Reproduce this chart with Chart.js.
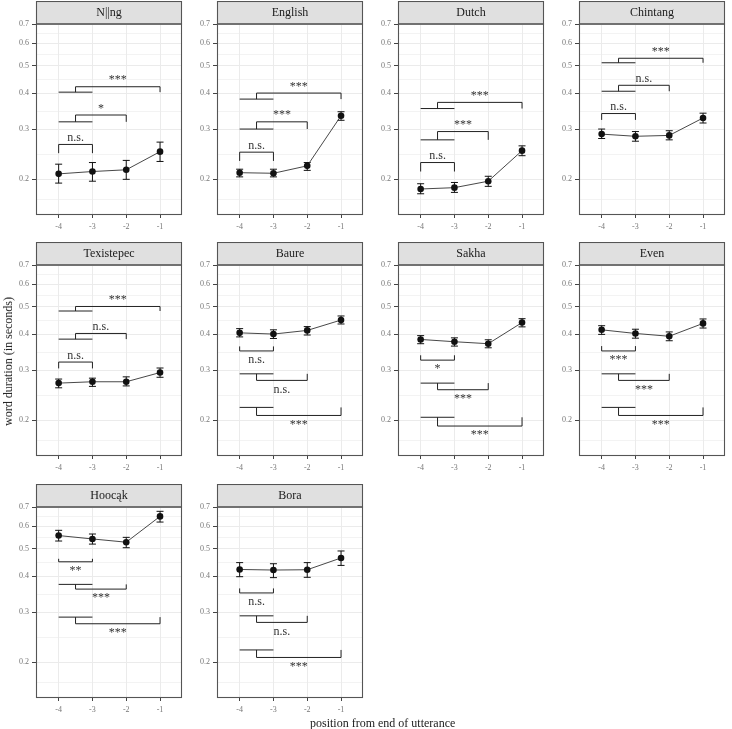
<!DOCTYPE html>
<html>
<head>
<meta charset="utf-8">
<script src="https://cdn.jsdelivr.net/npm/chart.js@4.4.0/dist/chart.umd.min.js"></script>
<style>
  body { margin: 0; background: #fff; }
  #wrap { position: relative; width: 732px; height: 729px; overflow: hidden; font-family: "Liberation Serif", serif; }
  #wrap canvas { position: absolute; z-index: 1; }
  .title { position: absolute; z-index: 2; color: #1a1a1a; font-size: 12px; line-height: 14px; white-space: nowrap; }
  #ytitle { writing-mode: vertical-rl; transform: rotate(180deg); }
</style>
</head>
<body>
<div id="wrap">
  <div class="title" id="ytitle">word duration (in seconds)</div>
  <div class="title" id="xtitle">position from end of utterance</div>
</div>
<script>
// positions on x, one line per language
const positions = [-4, -3, -2, -1];
const languages = ['N||ng', 'English', 'Dutch', 'Chintang', 'Texistepec', 'Baure', 'Sakha', 'Even', 'Hoocąk', 'Bora'];

const meanDuration = [
  [0.209, 0.213, 0.216, 0.250],
  [0.211, 0.210, 0.223, 0.334],
  [0.185, 0.187, 0.197, 0.252],
  [0.288, 0.283, 0.285, 0.328],
  [0.270, 0.273, 0.273, 0.294],
  [0.405, 0.401, 0.413, 0.449],
  [0.384, 0.377, 0.371, 0.440],
  [0.415, 0.403, 0.394, 0.437],
  [0.556, 0.541, 0.527, 0.649],
  [0.423, 0.421, 0.422, 0.464]
];
const lowerCI = [
  [0.194, 0.197, 0.200, 0.231],
  [0.204, 0.204, 0.215, 0.322],
  [0.178, 0.180, 0.189, 0.242],
  [0.278, 0.272, 0.275, 0.315],
  [0.260, 0.263, 0.264, 0.283],
  [0.392, 0.387, 0.398, 0.435],
  [0.371, 0.364, 0.359, 0.425],
  [0.400, 0.388, 0.380, 0.421],
  [0.532, 0.519, 0.504, 0.620],
  [0.399, 0.396, 0.397, 0.437]
];
const upperCI = [
  [0.226, 0.229, 0.233, 0.270],
  [0.217, 0.217, 0.229, 0.345],
  [0.193, 0.195, 0.205, 0.262],
  [0.300, 0.294, 0.296, 0.341],
  [0.279, 0.281, 0.284, 0.305],
  [0.419, 0.415, 0.426, 0.464],
  [0.396, 0.389, 0.383, 0.454],
  [0.429, 0.417, 0.408, 0.453],
  [0.580, 0.563, 0.548, 0.676],
  [0.447, 0.443, 0.447, 0.491]
];

// significance brackets: position -4 (and -4/-3 group) compared with each target
const bracketTargets = [-3, -2, -1];
const bracketBase = [
  [0.247, 0.318, 0.404],
  [0.232, 0.300, 0.382],
  [0.213, 0.275, 0.354],
  [0.323, 0.407, 0.512],
  [0.304, 0.385, 0.483],
  [0.363, 0.291, 0.222],
  [0.338, 0.270, 0.205],
  [0.364, 0.291, 0.222],
  [0.461, 0.375, 0.288],
  [0.363, 0.291, 0.221]
];
const bracketEnd = [
  [0.265, 0.336, 0.422],
  [0.249, 0.318, 0.401],
  [0.229, 0.294, 0.372],
  [0.340, 0.427, 0.531],
  [0.320, 0.403, 0.501],
  [0.350, 0.276, 0.208],
  [0.325, 0.256, 0.191],
  [0.350, 0.276, 0.208],
  [0.450, 0.361, 0.273],
  [0.350, 0.276, 0.208]
];
const bracketLabels = [
  ['n.s.', '*', '***'],
  ['n.s.', '***', '***'],
  ['n.s.', '***', '***'],
  ['n.s.', 'n.s.', '***'],
  ['n.s.', 'n.s.', '***'],
  ['n.s.', 'n.s.', '***'],
  ['*', '***', '***'],
  ['***', '***', '***'],
  ['**', '***', '***'],
  ['n.s.', 'n.s.', '***']
];

const yTicks = [0.2, 0.3, 0.4, 0.5, 0.6, 0.7];
const yMinor = [0.17, 0.245, 0.346, 0.447, 0.548, 0.648];

const FONT = '"Liberation Serif"';
const colLeft = [0, 181, 362, 543];
const rowTop = [1, 242, 484];

const panelPlugin = {
  id: 'panel',
  beforeDatasetsDraw(chart) {
    const i = chart.options.plugins.panel.index;
    const ctx = chart.ctx, xs = chart.scales.x, ys = chart.scales.y;
    ctx.save();
    ctx.strokeStyle = '#111';
    ctx.lineWidth = 1;
    positions.forEach((p, j) => {
      const x = xs.getPixelForValue(p);
      const y1 = ys.getPixelForValue(lowerCI[i][j]);
      const y2 = ys.getPixelForValue(upperCI[i][j]);
      ctx.beginPath();
      ctx.moveTo(x, y1); ctx.lineTo(x, y2);
      ctx.moveTo(x - 3.5, y1); ctx.lineTo(x + 3.5, y1);
      ctx.moveTo(x - 3.5, y2); ctx.lineTo(x + 3.5, y2);
      ctx.stroke();
    });
    ctx.restore();
  },
  afterDatasetsDraw(chart) {
    const i = chart.options.plugins.panel.index;
    const ctx = chart.ctx, xs = chart.scales.x, ys = chart.scales.y;
    ctx.save();
    ctx.strokeStyle = '#222';
    ctx.lineWidth = 1;
    ctx.fillStyle = '#333';
    ctx.font = '12px ' + FONT;
    ctx.textAlign = 'center';
    const px = v => xs.getPixelForValue(v);
    bracketTargets.forEach((t, k) => {
      const b = ys.getPixelForValue(bracketBase[i][k]);
      const e = ys.getPixelForValue(bracketEnd[i][k]);
      ctx.beginPath();
      let cx;
      if (t === -3) {
        ctx.moveTo(px(-4), b); ctx.lineTo(px(-4), e); ctx.lineTo(px(-3), e); ctx.lineTo(px(-3), b);
        cx = px(-3.5);
      } else {
        ctx.moveTo(px(-4), b); ctx.lineTo(px(-3), b);
        ctx.moveTo(px(-3.5), b); ctx.lineTo(px(-3.5), e); ctx.lineTo(px(t), e); ctx.lineTo(px(t), b);
        cx = px((-3.5 + t) / 2);
      }
      ctx.stroke();
      if (e < b) {
        ctx.textBaseline = 'bottom';
        ctx.fillText(bracketLabels[i][k], cx, e - 0.5);
      } else {
        ctx.textBaseline = 'top';
        ctx.fillText(bracketLabels[i][k], cx, e + 3);
      }
    });
    ctx.restore();
  },
  afterDraw(chart) {
    const i = chart.options.plugins.panel.index;
    const ctx = chart.ctx, a = chart.chartArea;
    ctx.save();
    ctx.fillStyle = '#e0e0e0';
    ctx.fillRect(a.left, 0.5, a.right - a.left, a.top - 0.5);
    ctx.strokeStyle = '#555';
    ctx.lineWidth = 1.1;
    ctx.strokeRect(a.left + 0.5, 0.5, a.right - a.left - 1, a.top - 0.5);
    ctx.strokeRect(a.left + 0.5, a.top, a.right - a.left - 1, a.bottom - a.top - 0.5);
    ctx.fillStyle = '#1a1a1a';
    ctx.font = '12px ' + FONT;
    ctx.textAlign = 'center';
    ctx.textBaseline = 'middle';
    ctx.fillText(languages[i], (a.left + a.right) / 2, a.top / 2 + 0.5);
    ctx.restore();
  }
};

function drawAll() {
  const wrap = document.getElementById('wrap');
  languages.forEach((lang, i) => {
    const cv = document.createElement('canvas');
    cv.width = 186; cv.height = 234;
    cv.style.left = colLeft[i % 4] + 'px';
    cv.style.top = rowTop[Math.floor(i / 4)] + 'px';
    wrap.appendChild(cv);

    new Chart(cv, {
      type: 'line',
      data: {
        datasets: [{
          data: positions.map((p, j) => ({ x: p, y: meanDuration[i][j] })),
          borderColor: '#333',
          borderWidth: 0.9,
          pointRadius: 3.3,
          pointBackgroundColor: '#111',
          pointBorderWidth: 0,
          tension: 0
        }]
      },
      options: {
        responsive: false,
        animation: false,
        layout: { padding: { top: 23, left: 0, right: 0, bottom: 0 } },
        plugins: { legend: { display: false }, tooltip: { enabled: false }, panel: { index: i } },
        scales: {
          x: {
            type: 'linear', min: -4.67, max: -0.35,
            afterBuildTicks: ax => { ax.ticks = positions.map(v => ({ value: v })); },
            afterFit: ax => { ax.height = 20; },
            border: { display: false },
            grid: { color: '#ebebeb', lineWidth: 1, tickLength: 3, tickColor: '#444' },
            ticks: { autoSkip: false, maxRotation: 0, padding: 4, color: '#777', font: { family: FONT, size: 8 }, callback: v => String(v) }
          },
          y: {
            type: 'logarithmic', min: 0.15, max: 0.7,
            afterBuildTicks: ax => { ax.ticks = yTicks.concat(yMinor).map(v => ({ value: v })); },
            afterFit: ax => { ax.width = 36; },
            border: { display: false },
            grid: {
              color: '#ebebeb',
              lineWidth: c => (yTicks.includes(c.tick.value) ? 1 : 0.6),
              tickLength: 4,
              tickColor: c => (yTicks.includes(c.tick.value) ? '#444' : 'rgba(0,0,0,0)')
            },
            ticks: {
              autoSkip: false, padding: 3, color: '#777', font: { family: FONT, size: 8 },
              callback: v => (yTicks.includes(v) ? v.toFixed(1) : '')
            }
          }
        }
      },
      plugins: [panelPlugin]
    });
  });
}

const yt = document.getElementById('ytitle');
yt.style.left = '1px';
yt.style.top = Math.round(361 - yt.offsetHeight / 2) + 'px';
const xt = document.getElementById('xtitle');
xt.style.left = Math.round(382 - xt.offsetWidth / 2) + 'px';
xt.style.top = '716px';

Chart.defaults.font.family = FONT;
Promise.all([
  document.fonts.load('12px "Liberation Serif"'),
  document.fonts.load('8px "Liberation Serif"')
]).then(drawAll, drawAll);
</script>
</body>
</html>
